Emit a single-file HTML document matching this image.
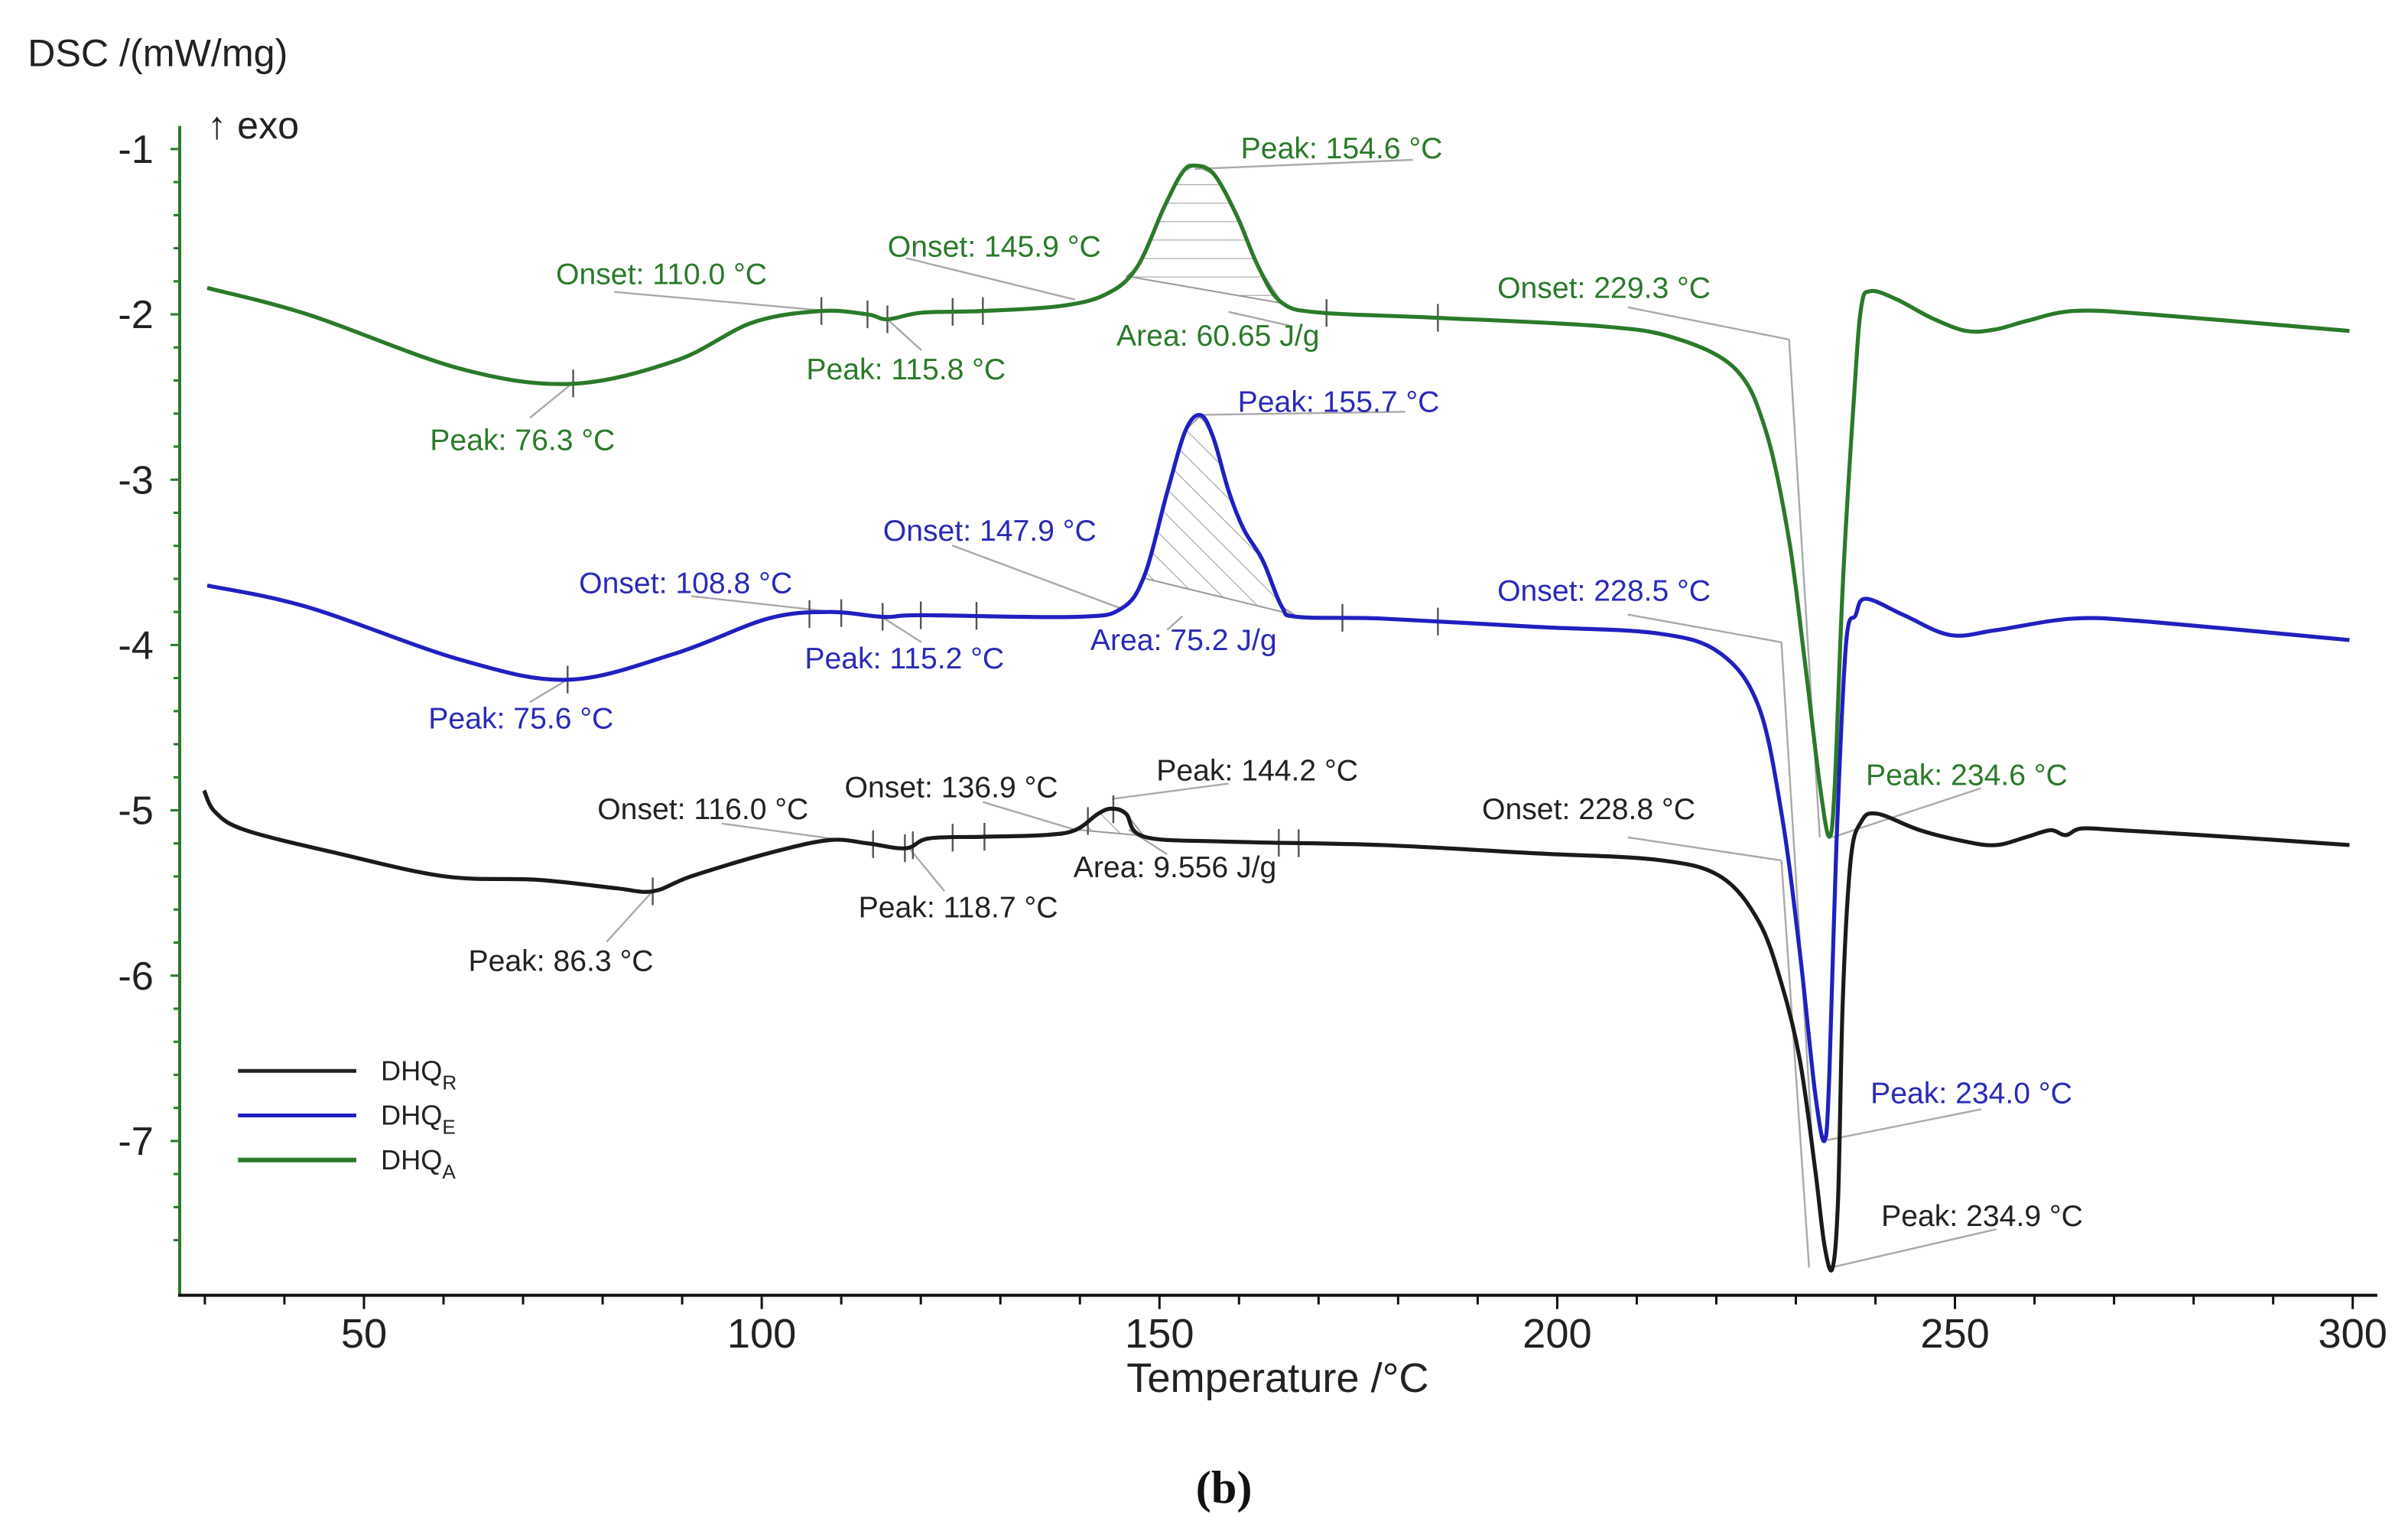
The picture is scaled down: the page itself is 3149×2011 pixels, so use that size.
<!DOCTYPE html>
<html><head><meta charset="utf-8"><style>
html,body{margin:0;padding:0;background:#fff;}
svg{display:block;}
text{font-family:"Liberation Sans",sans-serif;}
</style></head><body>
<svg id="chart" width="3149" height="2011" viewBox="0 0 1568 1001" preserveAspectRatio="none" xmlns="http://www.w3.org/2000/svg">
<defs>
<pattern id="hatchH" width="8" height="12" patternUnits="userSpaceOnUse"><line x1="0" y1="0" x2="8" y2="0" stroke="#999" stroke-width="1"/></pattern>
<pattern id="hatchD" width="12" height="12" patternUnits="userSpaceOnUse" patternTransform="rotate(-45)"><line x1="0" y1="0" x2="0" y2="12" stroke="#999" stroke-width="1"/></pattern>
</defs>
<text x="18" y="43" font-size="25" fill="#222">DSC /(mW/mg)</text>
<text x="135" y="90" font-size="25" fill="#222">↑ exo</text>
<g id="axes"></g>
<g id="annot"></g>
<g id="series"></g>
<g id="labels"></g>
<g>
<line x1="155" y1="697" x2="232" y2="697" stroke="#222" stroke-width="2.5"/>
<line x1="155" y1="726" x2="232" y2="726" stroke="#2020c0" stroke-width="2.5"/>
<line x1="155" y1="755" x2="232" y2="755" stroke="#2a7a2a" stroke-width="3"/>
<text x="248" y="703" font-size="18" fill="#222">DHQ<tspan font-size="13" dy="6">R</tspan></text>
<text x="248" y="732" font-size="18" fill="#222">DHQ<tspan font-size="13" dy="6">E</tspan></text>
<text x="248" y="761" font-size="18" fill="#222">DHQ<tspan font-size="13" dy="6">A</tspan></text>
</g>
<text x="832" y="906" font-size="27" fill="#222" text-anchor="middle">Temperature /°C</text>
<text x="797" y="978" font-size="30" font-weight="bold" fill="#111" text-anchor="middle" style="font-family:'Liberation Serif',serif">(<tspan font-weight="bold">b</tspan>)</text>
</svg>
<script>
// ---- data ----
const xTicks = [50, 100, 150, 200, 250, 300];
const yTicks = [-1, -2, -3, -4, -5, -6, -7];
const tempA = [30.3,42.9,62.2,76.1,89.2,98.8,107.5,113.3,115.8,120.1,127.8,137.5,143.2,147.1,150.6,152.9,154.4,156.8,159.7,162.5,165.4,170.3,184.7,205,214.6,222.4,226.2,229.1,231.1,233,234.2,234.9,235.9,237.3,238.2,239.4,242.7,247,251.4,255.2,259,264.9,274.5,299.6];
const dscA  = [-1.84,-2.0,-2.33,-2.42,-2.28,-2.05,-1.98,-2.0,-2.03,-1.99,-1.98,-1.95,-1.88,-1.72,-1.35,-1.14,-1.10,-1.15,-1.40,-1.72,-1.93,-1.99,-2.02,-2.07,-2.14,-2.33,-2.70,-3.35,-4.09,-4.84,-5.16,-4.84,-3.63,-2.51,-1.96,-1.86,-1.91,-2.02,-2.10,-2.09,-2.04,-1.98,-2.0,-2.10];
const tempE = [30.3,42.9,62.2,75.7,89.2,100.8,108.5,115.3,120.1,139.4,145.2,148.1,151,153.3,155.2,156.8,158.7,160.6,163,165.4,167.4,178,197.3,212.7,220.5,225.3,228.2,230.5,232.4,233.6,234.2,235.1,236.3,237.5,238.8,243.6,249.4,255.2,264.9,274.5,299.6];
const dscE  = [-3.64,-3.77,-4.09,-4.21,-4.05,-3.84,-3.80,-3.83,-3.82,-3.83,-3.78,-3.58,-3.07,-2.70,-2.61,-2.75,-3.07,-3.30,-3.49,-3.77,-3.83,-3.84,-3.89,-3.93,-4.05,-4.37,-5.02,-5.86,-6.70,-7.0,-6.60,-5.21,-4.00,-3.82,-3.72,-3.82,-3.94,-3.91,-3.84,-3.86,-3.97];
const tempR = [29.9,31.3,35.1,46.7,60.2,71.8,81.5,86.3,91.1,100.8,108.5,113.3,118.1,121,127.8,135.5,139.4,142.3,144,145.8,148.1,158.7,178,197.3,212.7,220.5,225.3,228.2,230.5,232.4,233.6,234.6,235.3,235.9,236.9,238.2,240.2,245.6,251.4,255.2,259.1,262,263.9,265.9,270.7,284.2,299.6];
const dscR  = [-4.88,-5.01,-5.12,-5.26,-5.40,-5.42,-5.47,-5.49,-5.40,-5.26,-5.18,-5.20,-5.23,-5.17,-5.16,-5.15,-5.12,-5.02,-4.99,-5.02,-5.16,-5.19,-5.21,-5.26,-5.30,-5.40,-5.67,-6.05,-6.51,-7.16,-7.63,-7.77,-7.35,-6.14,-5.30,-5.07,-5.02,-5.12,-5.19,-5.21,-5.16,-5.12,-5.15,-5.11,-5.12,-5.16,-5.21];
const labelsA = ["Peak: 154.6 °C","Onset: 145.9 °C","Onset: 110.0 °C","Area: 60.65 J/g","Peak: 115.8 °C","Peak: 76.3 °C","Onset: 229.3 °C","Peak: 234.6 °C"];
const labelsE = ["Peak: 155.7 °C","Onset: 147.9 °C","Onset: 108.8 °C","Area: 75.2 J/g","Peak: 115.2 °C","Peak: 75.6 °C","Onset: 228.5 °C","Peak: 234.0 °C"];
const labelsR = ["Peak: 144.2 °C","Onset: 136.9 °C","Onset: 116.0 °C","Area: 9.556 J/g","Peak: 118.7 °C","Peak: 86.3 °C","Onset: 228.8 °C","Peak: 234.9 °C"];

// ---- scales ----
const xS = t => 237 + (t - 50) * 5.18;
const yS = v => 97 + (-1 - v) * 107.6;
const NS = "http://www.w3.org/2000/svg";
function mk(tag, attrs, parent){ const e=document.createElementNS(NS,tag); for(const k in attrs) e.setAttribute(k,attrs[k]); parent.appendChild(e); return e; }
function interp(T,V,t){ for(let i=0;i<T.length-1;i++){ if(t>=T[i]&&t<=T[i+1]) return V[i]+(V[i+1]-V[i])*(t-T[i])/(T[i+1]-T[i]); } return V[V.length-1]; }
function smoothPath(T,V){
  const p=T.map((t,i)=>[xS(t),yS(V[i])]);
  let d="M"+p[0][0]+","+p[0][1];
  for(let i=0;i<p.length-1;i++){
    const p0=p[Math.max(0,i-1)],p1=p[i],p2=p[i+1],p3=p[Math.min(p.length-1,i+2)];
    const c1=[p1[0]+(p2[0]-p0[0])/6,p1[1]+(p2[1]-p0[1])/6];
    const c2=[p2[0]-(p3[0]-p1[0])/6,p2[1]-(p3[1]-p1[1])/6];
    d+=" C"+c1[0].toFixed(1)+","+c1[1].toFixed(1)+" "+c2[0].toFixed(1)+","+c2[1].toFixed(1)+" "+p2[0].toFixed(1)+","+p2[1].toFixed(1);
  }
  return d;
}

// ---- axes ----
const ax=document.getElementById('axes');
const yAxis=mk('line',{x1:117,y1:82,x2:117,y2:843,stroke:'#2a7a2a','stroke-width':2},ax);


const xAxis=mk('line',{x1:116,y1:843,x2:1548,y2:843,stroke:'#111','stroke-width':2},ax);


for(let v=-1;v>=-7.8;v-=0.2){
  const major=Math.abs(v-Math.round(v))<0.01;
  const t=mk('line',{x1:117-(major?6:4),y1:yS(v),x2:117,y2:yS(v),stroke:'#2a7a2a','stroke-width':1.5},ax);
  
  
}
yTicks.forEach(v=>{
  const t=mk('text',{x:100,y:yS(v)+9,'font-size':26,'text-anchor':'end',fill:'#222'},ax);
  t.textContent=String(v);
  
  
});
for(let t=30;t<=300;t+=10){
  const major=t%50===0;
  const l=mk('line',{x1:xS(t),y1:843,x2:xS(t),y2:843+(major?9:6),stroke:'#111','stroke-width':1.5},ax);
  
  
}
xTicks.forEach(t=>{
  const l=mk('text',{x:xS(t),y:877,'font-size':27,'text-anchor':'middle',fill:'#222'},ax);
  l.textContent=String(t);
  
  
});

// ---- hatched areas & annotation lines ----
const an=document.getElementById('annot');
function area(T,V,t0,t1,pat,name){
  const pts=[];
  for(let t=t0;t<=t1;t+=0.5) pts.push([xS(t),yS(interp(T,V,t))]);
  const b0=[xS(t1),yS(interp(T,V,t1))], b1=[xS(t0),yS(interp(T,V,t0))];
  const poly=mk('polygon',{points:pts.concat([b0,b1]).map(p=>p.join(',')).join(' '),fill:'url(#'+pat+')',stroke:'#999','stroke-width':1},an);
  
  
}
area(tempA,dscA,145.9,166,'hatchH','area-peak-a');
area(tempE,dscE,147.9,167,'hatchD','area-peak-e');
area(tempR,dscR,139.5,148,'hatchD','area-peak-r');
const leaders=[
 [[778,110],[920,104]],[[700,195],[590,168]],[[535,202],[400,190]],[[800,203],[840,212]],[[578,208],[600,228]],[[372,250],[345,272]],
 [[1060,200],[1165,221]],[[1165,221],[1185,545]],[[1193,545],[1290,513]],
 [[782,270],[915,268]],[[730,396],[620,355]],[[540,398],[450,388]],[[770,401],[760,410]],[[575,402],[600,418]],[[370,442],[345,457]],
 [[1060,400],[1160,418]],[[1160,418],[1180,742]],[[1190,742],[1290,722]],
 [[724,520],[800,510]],[[700,540],[640,522]],[[565,549],[470,536]],[[735,540],[760,556]],[[592,552],[615,580]],[[425,580],[395,613]],
 [[1060,545],[1160,560]],[[1160,560],[1178,825]],[[1192,825],[1300,800]]
];
leaders.forEach(s=>{
  const l=mk('line',{x1:s[0][0],y1:s[0][1],x2:s[1][0],y2:s[1][1],stroke:'#aaa','stroke-width':1.2},an);
  
  
});
function marks(T,V,ts,name){
  ts.forEach(t=>{
    const x=xS(t),y=yS(interp(T,V,t));
    const l=mk('line',{x1:x,y1:y-9,x2:x,y2:y+9,stroke:'#555','stroke-width':1.2},an);
    
    
  });
}
marks(tempA,dscA,[76.3,107.5,113.3,115.8,124,127.8,171,185],'marker-a');
marks(tempE,dscE,[75.6,106,110,115.2,120,127,173,185],'marker-e');
marks(tempR,dscR,[86.3,114,118,119,124,128,141,144.2,165,167.5],'marker-r');

// ---- series ----
const sg=document.getElementById('series');
const pR=mk('path',{d:smoothPath(tempR,dscR),fill:'none',stroke:'#1a1a1a','stroke-width':2.6,'stroke-linejoin':'round'},sg);


const pE=mk('path',{d:smoothPath(tempE,dscE),fill:'none',stroke:'#2020c0','stroke-width':2.6,'stroke-linejoin':'round'},sg);


const pA=mk('path',{d:smoothPath(tempA,dscA),fill:'none',stroke:'#2a7a2a','stroke-width':2.6,'stroke-linejoin':'round'},sg);



// ---- text labels ----
const lg=document.getElementById('labels');
const posA=[[808,103],[578,167],[362,185],[727,225],[525,247],[280,293],[975,194],[1215,511]];
const posE=[[806,268],[575,352],[377,386],[710,423],[524,435],[279,474],[975,391],[1218,718]];
const posR=[[753,508],[550,519],[389,533],[699,571],[559,597],[305,632],[965,533],[1225,798]];
function putLabels(arr,pos,color,name){
  arr.forEach((s,i)=>{
    const t=mk('text',{x:pos[i][0],y:pos[i][1],'font-size':19.5,fill:color},lg);
    t.textContent=s;
    
    
  });
}
putLabels(labelsA,posA,'#2a7a2a','label-a');
putLabels(labelsE,posE,'#2a2ab8','label-e');
putLabels(labelsR,posR,'#222','label-r');
</script>
</body></html>
